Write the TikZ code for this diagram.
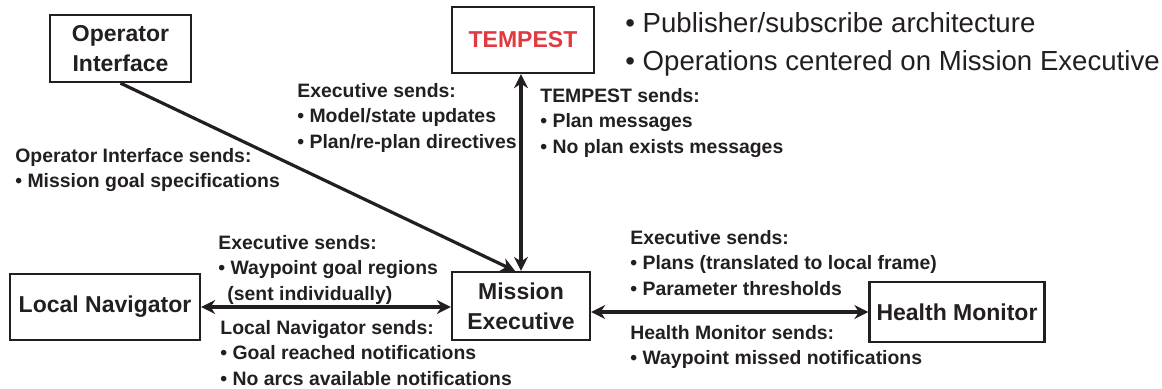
\documentclass[tikz,border=0pt]{standalone}
\usepackage{fontspec}
\setmainfont{Liberation Sans}
\usepackage{xcolor}
\usetikzlibrary{positioning, arrows.meta}
\definecolor{ink}{HTML}{231F20}
\definecolor{tred}{HTML}{E2383F}

\begin{document}
\begin{tikzpicture}[x=0.5pt, y=-0.5pt, >=Stealth, ink,
  box/.style={draw, line width=1.15pt, align=center, inner sep=0pt,
    font=\bfseries\fontsize{11.5}{15}\selectfont},
  msg/.style={anchor=north west, align=left, inner sep=0pt,
    font=\bfseries\fontsize{9.7}{12.75}\selectfont},
  link/.style={line width=1.6pt, {Stealth[length=7pt,width=7pt]}-{Stealth[length=7pt,width=7pt]}}]
  \useasboundingbox (0,0) rectangle (1162,388);

  % components
  \node[box, minimum width=70.5pt, minimum height=33.5pt] (oi) at (120.5,48.5) {Operator\\Interface};
  \node[box, minimum width=71pt, minimum height=33pt, text=tred] (tempest) at (523,40) {TEMPEST};
  \node[box, minimum width=69pt, minimum height=34pt] (me) at (521,306) {Mission\\Executive};
  \node[box, minimum width=95pt, minimum height=33pt] (ln) at (105,307) {Local Navigator};
  \node[box, minimum width=87.5pt, minimum height=30pt] (hm) at (957,312) {Health Monitor};

  % messages
  \draw[line width=1.6pt, -{Stealth[length=7pt,width=7pt]}] (oi.south) -- ([xshift=-3pt]me.north);
  \draw[link] (me.north) -- (me.north |- tempest.south);
  \draw[link] (ln.east) -- (ln.east -| me.west);
  \draw[link] (me.east |- hm.west) -- (hm.west);

  % labels
  \node[msg] (exectemp) at (297,83) {Executive sends:\\• Model/state updates\\• Plan/re-plan directives};
  \node[msg] (tempsends) at (540,88) {TEMPEST sends:\\• Plan messages\\• No plan exists messages};
  \node[msg] (oisends) at (15,148) {Operator Interface sends:\\• Mission goal specifications};
  \node[msg] (execln) at (218,235) {Executive sends:\\• Waypoint goal regions\\\hspace*{4.5pt}(sent individually)};
  \node[msg] (lnsends) at (220,320) {Local Navigator sends:\\• Goal reached notifications\\• No arcs available notifications};
  \node[msg] (exechm) at (630,230) {Executive sends:\\• Plans (translated to local frame)\\• Parameter thresholds};
  \node[msg] (hmsends) at (630,325) {Health Monitor sends:\\• Waypoint missed notifications};

  \node[anchor=north west, align=left, inner sep=0pt, font=\fontsize{13.8}{19}\selectfont]
    (notes) at (625,12) {• Publisher/subscribe architecture\\• Operations centered on Mission Executive};
\end{tikzpicture}
\end{document}
